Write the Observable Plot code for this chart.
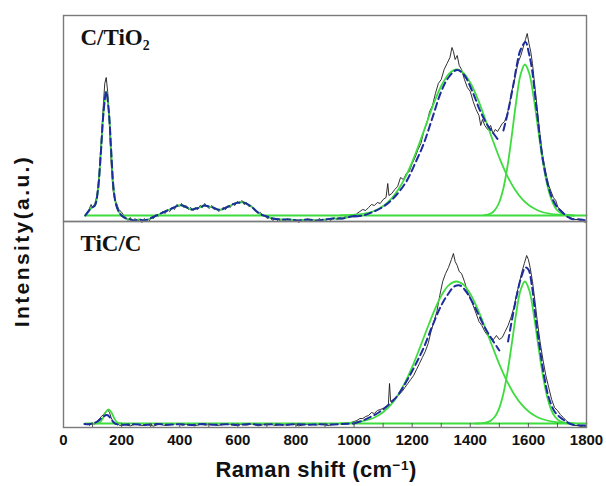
<!DOCTYPE html>
<html><head><meta charset="utf-8">
<script src="https://cdn.jsdelivr.net/npm/d3@7"></script>
<script src="https://cdn.jsdelivr.net/npm/@observablehq/plot@0.6"></script>
<style>
body{margin:0;background:#fff;}
#wrap{position:relative;width:606px;height:486px;overflow:hidden;background:#fff;}
.ttl{position:absolute;font-family:"Liberation Sans",Arial,sans-serif;font-weight:bold;color:#111;text-align:center;white-space:nowrap;}
.ttl sup{font-size:0.62em;vertical-align:0.55em;line-height:0;}
</style></head><body><div id="wrap"></div><script>
const panels = ["C/TiO₂", "TiC/C"];
const majorTicks = [0, 200, 400, 600, 800, 1000, 1200, 1400, 1600, 1800];
const minorTicks = [100, 200, 300, 400, 500, 600, 700, 800, 900, 1000, 1100, 1200, 1300, 1400, 1500, 1600, 1700];

// ---- C/TiO2 panel (top) ----
const topRaw = [[75,0.5],[85,2],[95,5.5],[100,4],[108,6],[115,10],[122,20],[130,38],[137,55],[142,66],[147,69],[152,62],[158,45],[164,26],[170,13],[176,8],[183,6],[190,3],[198,2],[206,0.5],[214,-1],[222,-2.5],[230,-1],[238,-3],[246,-1.5],[254,-3],[262,-2],[270,-3.5],[278,-1.5],[286,-2.5],[294,-3],[302,-1],[310,-1.5],[318,0.5],[326,-0.5],[334,1],[342,2],[350,1],[358,3],[366,2],[374,4],[382,3],[390,5.5],[398,4.5],[406,6],[414,4],[422,5],[430,3],[438,4],[446,2.5],[454,4],[462,3],[470,5],[478,4],[486,6],[494,4.5],[502,3.5],[510,5],[518,3],[526,3.5],[534,2],[542,3],[550,4],[558,3],[566,5],[574,4],[582,6],[590,5],[598,7],[606,6],[614,7.5],[622,5.5],[630,6.5],[638,4.5],[646,5],[654,3],[662,2.5],[670,1],[678,1.5],[686,0],[694,-0.5],[702,-1.5],[710,-1],[720,-2.5],[730,-1.5],[740,-3],[750,-2],[760,-3],[770,-1.5],[780,-2.5],[790,-3],[800,-2],[810,-3.5],[820,-2],[830,-3],[840,-1.5],[850,-3],[860,-2],[870,-3],[880,-1.5],[890,-2.5],[900,-3],[910,-1.5],[920,-2.5],[930,-1],[940,-2],[950,-1],[960,-1.5],[970,-0.5],[980,-1],[990,0],[1000,-0.5],[1010,1],[1020,2],[1030,3],[1040,2.5],[1050,4],[1060,5.5],[1070,5],[1080,6.5],[1090,6],[1100,8],[1110,9],[1116,16],[1120,10],[1130,11],[1140,13],[1150,14.5],[1160,19],[1170,18],[1180,21],[1190,22],[1200,26],[1210,29],[1220,33],[1230,36],[1240,42],[1250,46],[1260,52],[1270,55],[1280,61],[1290,66],[1300,68],[1310,73],[1320,76],[1330,79],[1337,84],[1342,82],[1348,78],[1355,80],[1362,75],[1370,73],[1380,68],[1390,64],[1400,62],[1410,57],[1420,53],[1430,50],[1436,45],[1442,48],[1450,45],[1460,43],[1470,45],[1478,41],[1486,43],[1494,42],[1502,44],[1510,46],[1518,47],[1526,50],[1534,55],[1542,62],[1550,66],[1558,72],[1566,77],[1574,80],[1582,84],[1590,88],[1596,91],[1602,86],[1608,82],[1614,76],[1622,65],[1630,54],[1638,43],[1646,33],[1654,26],[1662,20],[1670,15],[1678,12],[1686,9],[1694,7.5],[1702,4],[1710,3],[1718,2],[1726,0.5],[1734,-1],[1742,-0.5],[1750,-1.5],[1760,-2],[1770,-2],[1780,-2.5],[1790,-3],[1800,-3.5]];
const topFitLow = [[75,0],[88,2.5],[98,4],[108,5],[118,12],[128,30],[138,52],[147,62],[156,52],[165,30],[172,14],[180,6],[190,2],[200,0],[215,-1.5],[230,-2],[245,-2.5],[260,-2],[275,-2.5],[290,-2],[305,-1],[320,0],[335,1],[350,2],[365,3],[380,4],[395,5],[410,5],[425,4],[440,3],[455,3.5],[470,4],[485,5],[500,4.5],[515,4],[530,3],[545,3],[560,4],[575,5],[590,6],[605,6.5],[620,6.5],[635,5.5],[650,4],[665,2],[680,0.5],[700,-0.5],[720,-1.5],[750,-2],[780,-2],[810,-2.5],[840,-2],[870,-2.5],[900,-2],[930,-1.5],[960,-1.5],[990,-0.5],[1010,0]];
const topCompD = [[953,0.1],[1003,0.4],[1053,1.5],[1078,2.9],[1103,5],[1128,8.3],[1153,13.1],[1178,19.6],[1203,27.8],[1228,37.4],[1253,47.5],[1278,57.4],[1303,65.6],[1328,71.1],[1353,73],[1378,71.1],[1403,65.6],[1428,57.4],[1453,47.5],[1478,37.4],[1503,27.8],[1528,19.6],[1553,13.1],[1578,8.3],[1603,5],[1628,2.9],[1653,1.5],[1703,0.4],[1753,0.1]];
const topCompG = [[1448,0.2],[1468,0.8],[1483,2.4],[1498,6],[1513,13],[1528,24.5],[1543,40.1],[1558,57],[1573,70.4],[1588,75.5],[1603,71],[1618,59.2],[1633,43.7],[1648,28.5],[1663,16.5],[1678,8.5],[1693,3.8],[1708,1.5],[1728,0.4],[1758,0]];
const topFitD = [[1000,-0.5],[1030,0],[1060,1.5],[1090,3.5],[1120,6.5],[1150,11],[1180,17],[1210,26],[1240,36],[1270,49],[1300,62],[1325,69],[1355,72.8],[1380,70],[1410,61],[1435,52],[1460,45],[1480,41],[1500,37]];
const topFitG = [[1514,42.5],[1530,52],[1549,66],[1560,75],[1572,82.5],[1590,86.7],[1602,81],[1613,72.5],[1630,51],[1652,26],[1676,11],[1695,5],[1710,2.5],[1745,-1.5],[1780,-2],[1800,-2.5]];
const topBase = [[75,0],[1800,0]];

// ---- TiC/C panel (bottom) ----
const botRaw = [[72,-1.2],[82,-1],[90,-2],[98,-0.5],[106,-1.5],[114,0],[122,1],[130,2.5],[138,3.5],[146,5],[152,6],[158,4.5],[164,2],[170,0],[178,-1.5],[186,-1],[194,-2],[210,-1.5],[230,-2.2],[250,-1.2],[270,-2],[290,-1.5],[310,-2.3],[330,-1.3],[350,-2],[370,-1.5],[390,-1],[410,-1.8],[430,-1.2],[450,-2.2],[470,-1.5],[490,-1.8],[510,-1.2],[530,-2],[550,-1.5],[570,-1.3],[590,-2],[610,-1.5],[630,-1.8],[650,-1.2],[670,-2.2],[690,-1.5],[710,-1.3],[730,-2],[750,-1.5],[770,-1.8],[790,-1.2],[810,-2.2],[830,-1.5],[850,-1.3],[870,-1.8],[890,-1.2],[910,-2],[930,-1.5],[950,-1],[970,-1.5],[990,-0.5],[1000,0],[1010,0.5],[1020,1.5],[1030,1.5],[1040,2.5],[1050,3],[1060,4.5],[1070,4],[1080,5.5],[1090,6],[1100,6.5],[1110,7.5],[1118,8],[1122,19],[1126,10],[1135,11],[1145,12],[1155,13.5],[1165,15],[1175,17],[1185,19],[1195,21],[1205,23],[1215,26],[1225,29],[1235,32],[1245,35],[1255,39],[1265,45],[1275,50],[1285,55],[1295,63],[1305,70],[1315,74],[1325,77],[1335,81],[1342,84],[1348,80],[1355,78],[1362,75],[1370,74],[1380,70],[1390,65],[1400,62],[1410,58],[1420,54],[1430,50],[1440,48],[1450,45],[1460,43],[1470,42],[1480,41],[1490,43],[1500,41],[1510,42],[1520,45],[1530,48],[1540,52],[1550,57],[1560,64],[1570,70],[1578,75],[1586,79],[1594,83],[1600,81],[1606,77],[1614,70],[1622,61],[1630,51],[1640,40],[1650,31],[1660,23],[1670,17],[1680,11],[1690,7],[1700,5.5],[1710,3.5],[1720,2],[1730,0.5],[1740,-1],[1750,-1.5],[1760,-2],[1770,-2],[1780,-2.5],[1790,-2.3],[1800,-2.5]];
const botFitLow = [[72,-1.2],[90,-1.3],[105,-0.8],[120,0.3],[135,2.2],[150,3.2],[160,2],[170,0],[180,-1.2],[200,-1.6],[240,-1.4],[280,-1.7],[320,-1.3],[360,-1.6],[400,-1.4],[440,-1.7],[480,-1.3],[520,-1.6],[560,-1.4],[600,-1.7],[640,-1.3],[680,-1.6],[720,-1.4],[760,-1.7],[800,-1.3],[840,-1.6],[880,-1.4],[920,-1.5],[960,-1.2],[1000,-1]];
const botCompHump = [[110,-1],[125,-0.5],[135,1.5],[145,4.5],[155,6],[165,4.5],[175,1.5],[185,-0.5],[200,-1]];
const botCompD = [[952,-0.9],[1002,-0.5],[1052,1],[1077,2.5],[1102,4.9],[1127,8.4],[1152,13.4],[1177,19.9],[1202,27.9],[1227,37.1],[1252,46.6],[1277,55.7],[1302,63.3],[1327,68.3],[1352,70],[1377,68.3],[1402,63.3],[1427,55.7],[1452,46.6],[1477,37.1],[1502,27.9],[1527,19.9],[1552,13.4],[1577,8.4],[1602,4.9],[1627,2.5],[1652,1],[1702,-0.5],[1752,-0.9]];
const botCompG = [[1418,-1],[1448,-0.7],[1468,0.2],[1483,2.1],[1498,6.1],[1513,13.4],[1528,24.6],[1543,39],[1558,54],[1573,65.6],[1588,70],[1603,65.6],[1618,54],[1633,39],[1648,24.6],[1663,13.4],[1678,6.1],[1693,2.1],[1708,0.2],[1728,-0.7],[1758,-1]];
const botFitD = [[1000,-1],[1030,0.5],[1060,2.5],[1090,5],[1120,8.5],[1150,13],[1180,20],[1210,28],[1240,37],[1270,48],[1300,58],[1325,64],[1345,67.5],[1365,68],[1390,64],[1420,56],[1450,47],[1475,41],[1500,35.5]];
const botFitG = [[1530,40],[1545,52],[1560,63],[1575,72],[1590,77],[1600,76],[1612,68],[1625,52],[1640,36],[1655,22],[1670,12],[1690,5],[1710,2],[1730,0],[1750,-1.5],[1780,-2],[1800,-2]];
const botBase = [[75,-1],[1800,-1]];

// ---- build tidy rows ----
function rows(arr, panel, id) { return arr.map(([x, y]) => ({x, y, panel, id})); }
const raw = [...rows(topRaw, panels[0], "t-raw"), ...rows(botRaw, panels[1], "b-raw")];
const comps = [
  ...rows(topFitLow, panels[0], "t-low"), ...rows(topCompD, panels[0], "t-D"), ...rows(topCompG, panels[0], "t-G"),
  ...rows(botCompHump, panels[1], "b-hump"), ...rows(botCompD, panels[1], "b-D"), ...rows(botCompG, panels[1], "b-G")
];
const bases = [...rows(topBase, panels[0], "t-base"), ...rows(botBase, panels[1], "b-base")];
const fits = [
  ...rows(topFitLow, panels[0], "t-flow"), ...rows(topFitD, panels[0], "t-fD"), ...rows(topFitG, panels[0], "t-fG"),
  ...rows(botFitLow, panels[1], "b-flow"), ...rows(botFitD, panels[1], "b-fD"), ...rows(botFitG, panels[1], "b-fG")
];

const green = "#3fdc3f", blue = "#1d2c9e";

const chart = Plot.plot({
  width: 606, height: 486,
  marginLeft: 63, marginRight: 20, marginTop: 15, marginBottom: 59,
  style: {fontFamily: "'Liberation Sans', Arial, sans-serif", fontSize: "15px", fontWeight: "bold", color: "#111", background: "#fff"},
  x: {domain: [0, 1800], ticks: majorTicks, tickSize: 0, tickPadding: 7, tickFormat: d => String(d), label: null},
  y: {domain: [-3, 100], axis: null},
  fy: {domain: panels, axis: null, padding: 0},
  marks: [
    Plot.line(raw, {x: "x", y: "y", z: "id", fy: "panel", stroke: "#1a1a1a", strokeWidth: 0.9}),
    Plot.line(bases, {x: "x", y: "y", z: "id", fy: "panel", stroke: green, strokeWidth: 1.8}),
    Plot.line(comps, {x: "x", y: "y", z: "id", fy: "panel", stroke: green, strokeWidth: 1.8, curve: "catmull-rom"}),
    Plot.line(fits, {x: "x", y: "y", z: "id", fy: "panel", stroke: blue, strokeWidth: 2, strokeDasharray: "7,4", curve: "catmull-rom"}),
    Plot.tickX(minorTicks, {x: d => d, fy: () => panels[1], stroke: "#555", strokeWidth: 1, insetTop: 202}),
    Plot.frame({stroke: "#7a7a7a", strokeWidth: 1.4}),
    Plot.text(panels, {fy: d => d, text: d => d, frameAnchor: "top-left", dx: 17, dy: 29, lineAnchor: "bottom", textAnchor: "start",
      fontFamily: "'Liberation Serif', 'Times New Roman', serif", fontSize: 23, fontWeight: "bold", fill: "#111"})
  ]
});

const wrap = document.getElementById("wrap");
wrap.appendChild(chart);

const xt = document.createElement("div");
xt.className = "ttl";
xt.style.cssText += "left:166px;width:300px;top:456px;font-size:22px;line-height:28px;letter-spacing:0.4px;";
xt.innerHTML = "Raman shift (cm<sup>−1</sup>)";
wrap.appendChild(xt);

const yt = document.createElement("div");
yt.className = "ttl";
yt.style.cssText += "left:-128px;width:300px;top:227px;height:28px;font-size:21px;line-height:28px;transform:rotate(-90deg);transform-origin:150px 14px;letter-spacing:2.4px;";
yt.textContent = "Intensity(a.u.)";
wrap.appendChild(yt);
</script></body></html>
